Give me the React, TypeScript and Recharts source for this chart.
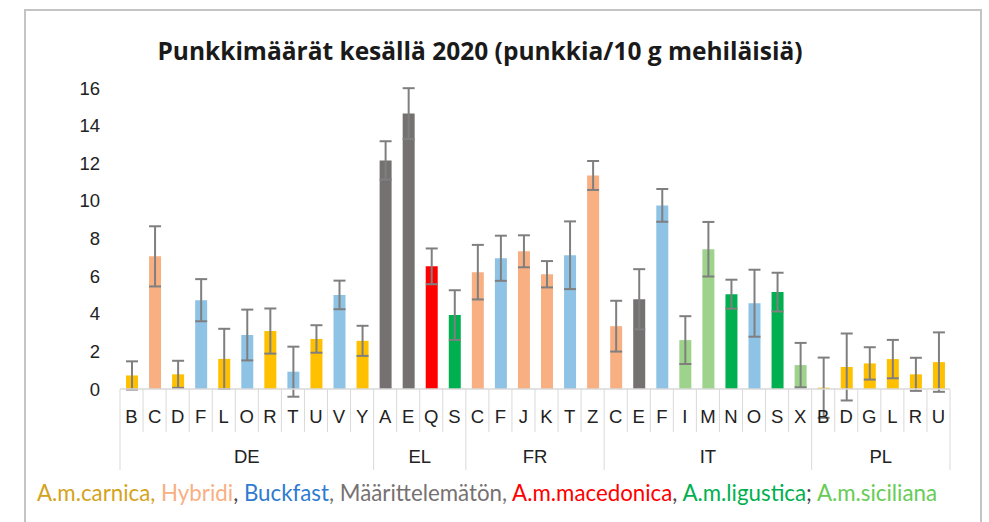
import React from 'react';
import { BarChart, Bar, Cell, XAxis, YAxis, ErrorBar } from 'recharts';

const countries = ['DE', 'EL', 'FR', 'IT', 'PL'];

const hiveCodes = [
  ['B', 'C', 'D', 'F', 'L', 'O', 'R', 'T', 'U', 'V', 'Y'],
  ['A', 'E', 'Q', 'S'],
  ['C', 'F', 'J', 'K', 'T', 'Z'],
  ['C', 'E', 'F', 'I', 'M', 'N', 'O', 'S', 'X'],
  ['B', 'D', 'G', 'L', 'R', 'U'],
];

// punkkia / 10 g mehiläisiä
const mites = [
  [0.72, 7.05, 0.78, 4.72, 1.6, 2.87, 3.08, 0.92, 2.66, 5.0, 2.56],
  [12.15, 14.64, 6.52, 3.93],
  [6.21, 6.95, 7.32, 6.1, 7.11, 11.35],
  [3.34, 4.77, 9.76, 2.6, 7.43, 5.04, 4.56, 5.15, 1.27],
  [0.07, 1.17, 1.36, 1.59, 0.78, 1.43],
];

const mitesErr = [
  [0.75, 1.6, 0.72, 1.12, 1.6, 1.35, 1.2, 1.33, 0.73, 0.76, 0.8],
  [1.02, 1.35, 0.95, 1.32],
  [1.45, 1.2, 0.85, 0.7, 1.8, 0.77],
  [1.35, 1.6, 0.87, 1.27, 1.45, 0.77, 1.78, 1.03, 1.18],
  [1.6, 1.78, 0.86, 1.02, 0.88, 1.58],
];

const breeds = [
  ['car', 'hyb', 'car', 'buc', 'car', 'buc', 'car', 'buc', 'car', 'buc', 'car'],
  ['unk', 'unk', 'mac', 'lig'],
  ['hyb', 'buc', 'hyb', 'hyb', 'buc', 'hyb'],
  ['hyb', 'unk', 'buc', 'sic', 'sic', 'lig', 'buc', 'lig', 'sic'],
  ['car', 'car', 'car', 'car', 'car', 'car'],
];

const yTicks = [0, 2, 4, 6, 8, 10, 12, 14, 16];

const barColors: Record<string, string> = {
  car: '#FFC000',
  hyb: '#F8B083',
  buc: '#8EC3E6',
  unk: '#767171',
  mac: '#FF0000',
  lig: '#00B050',
  sic: '#9DD38B',
};

const rows = countries.flatMap((country, g) =>
  hiveCodes[g].map((code, i) => ({
    code,
    country,
    value: mites[g][i],
    err: mitesErr[g][i],
    breed: breeds[g][i],
    first: i === 0,
    groupSize: hiveCodes[g].length,
    last: g === countries.length - 1 && i === hiveCodes[g].length - 1,
  }))
);

const FONT = '"Liberation Sans", Arial, sans-serif';
const GRID = '#D9D9D9';

const CategoryTick: React.FC<any> = ({ x, y, payload, index }) => {
  const idx = payload?.index ?? index;
  const row = rows[idx];
  const half = payload?.offset ?? 830 / rows.length / 2;
  const left = x - half;
  return (
    <g>
      <line x1={left} y1={y} x2={left} y2={y + (row.first ? 81 : 43)} stroke={GRID} strokeWidth={1} />
      {row.last && <line x1={x + half} y1={y} x2={x + half} y2={y + 81} stroke={GRID} strokeWidth={1} />}
      <text x={x} y={y + 34} textAnchor="middle" fontFamily={FONT} fontSize={18.5} fill="#222">
        {payload.value}
      </text>
      {row.first && (
        <text x={left + row.groupSize * half} y={y + 74} textAnchor="middle" fontFamily={FONT} fontSize={18.5} fill="#222">
          {row.country}
        </text>
      )}
    </g>
  );
};

const legendParts: [string, string][] = [
  ['A.m.carnica,', '#D4A320'],
  [' Hybridi', '#F8B083'],
  [', ', '#444'],
  ['Buckfast', '#2E7BD0'],
  [', Määrittelemätön, ', '#767171'],
  ['A.m.macedonica', '#FF0000'],
  [', ', '#444'],
  ['A.m.ligustica', '#00B050'],
  ['; ', '#444'],
  ['A.m.siciliana', '#66CC55'],
];

const App: React.FC = () => {
  return (
    <div style={{ position: 'absolute', left: 0, top: 0, width: 989, height: 522, overflow: 'hidden', background: '#fff' }}>
      <div
        style={{
          position: 'absolute',
          left: 24,
          top: 9,
          width: 954,
          height: 540,
          border: '2px solid #C4C4C4',
        }}
      />
      <div
        style={{
          position: 'absolute',
          left: 0,
          width: 960,
          top: 34,
          textAlign: 'center',
          fontFamily: '"Open Sans", sans-serif',
          fontWeight: 'bold',
          fontSize: 24.5,
          lineHeight: '33px',
          color: '#1a1a1a',
        }}
      >
        Punkkimäärät kesällä 2020 (punkkia/10 g mehiläisiä)
      </div>
      <div style={{ position: 'absolute', left: 0, top: 0 }}>
        <BarChart width={989} height={522} data={rows} margin={{ top: 88, right: 39, bottom: 52, left: 0 }}>
          <XAxis
            dataKey="code"
            interval={0}
            height={81}
            tickLine={false}
            tickSize={0}
            tickMargin={0}
            axisLine={{ stroke: GRID, strokeWidth: 1.5 }}
            tick={<CategoryTick />}
          />
          <YAxis
            domain={[0, 16]}
            ticks={yTicks}
            allowDataOverflow
            width={120}
            axisLine={false}
            tickLine={false}
            tickSize={0}
            tickMargin={20}
            tick={{ fontFamily: FONT, fontSize: 18.5, fill: '#222' }}
          />
          <Bar dataKey="value" barSize={12} isAnimationActive={false}>
            {rows.map((r, i) => (
              <Cell key={`cell-${i}`} fill={barColors[r.breed]} />
            ))}
            <ErrorBar dataKey="err" direction="y" width={6} stroke="#7F7F7F" strokeWidth={2} />
          </Bar>
        </BarChart>
      </div>
      <div
        style={{
          position: 'absolute',
          left: 37,
          top: 480,
          fontFamily: 'Lato, sans-serif',
          fontSize: 22.3,
          lineHeight: '26px',
          whiteSpace: 'pre',
        }}
      >
        {legendParts.map(([t, c], i) => (
          <span key={i} style={{ color: c }}>
            {t}
          </span>
        ))}
      </div>
    </div>
  );
};

export default App;
